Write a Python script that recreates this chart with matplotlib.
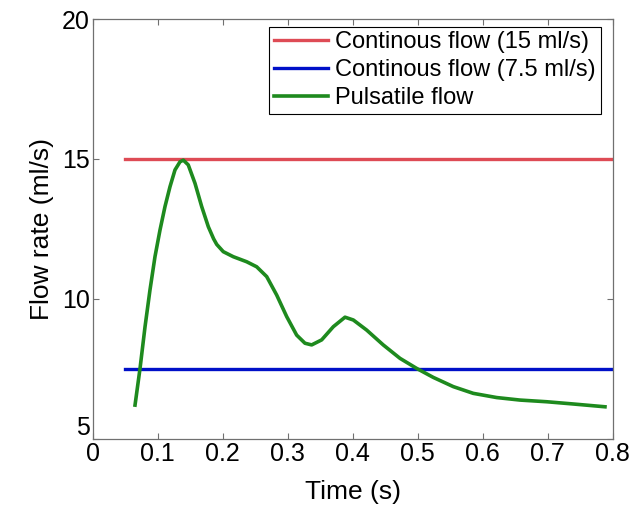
#! /usr/bin/env python3

import matplotlib
matplotlib.use('Agg')
import matplotlib.pyplot as plt
import matplotlib.transforms as mtransforms

# continuous flow levels (ml/s) and the span they cover (s)
flow_high = 15
flow_low = 7.5
flow_span = [0.05, 0.8]

# pulsatile flow waveform
t_pulse = [0.0651, 0.0728, 0.0805, 0.0881, 0.0958, 0.1035, 0.1112, 0.1189,
           0.1266, 0.1343, 0.1394, 0.147, 0.1574, 0.1677, 0.1779, 0.1860,
           0.1908, 0.2009, 0.2163, 0.2369, 0.2523, 0.2677, 0.2831, 0.2985,
           0.3138, 0.3266, 0.3369, 0.3523, 0.3702, 0.3882, 0.401, 0.4215,
           0.447, 0.4728, 0.4985, 0.524, 0.5548, 0.5855, 0.6215, 0.6574,
           0.6985, 0.7394, 0.7882]
q_pulse = [6.21, 7.52, 9.01, 10.32, 11.51, 12.46, 13.30, 14.01,
           14.61, 14.90, 14.96, 14.79, 14.13, 13.30, 12.58, 12.15,
           11.95, 11.69, 11.51, 11.33, 11.15, 10.80, 10.14, 9.37,
           8.71, 8.42, 8.36, 8.54, 9.01, 9.35, 9.25, 8.89,
           8.36, 7.88, 7.52, 7.20, 6.87, 6.63, 6.48, 6.39,
           6.33, 6.25, 6.15]

font = {'family': 'Liberation Sans',
        'weight': 'normal',
        'size': 18}
plt.rc('font', **font)

fig = plt.figure(figsize=(6.29, 5.15), dpi=100)
ax = fig.add_axes([0.1474, 0.1476, 0.8266, 0.8155])

ax.plot(flow_span, [flow_high, flow_high], color='#DE4B55', lw=2.4,
        label='Continous flow (15 ml/s)')
ax.plot(flow_span, [flow_low, flow_low], color='#0010C8', lw=2.4,
        label='Continous flow (7.5 ml/s)')
ax.plot(t_pulse, q_pulse, color='#1E8A1E', lw=2.6,
        solid_joinstyle='round', label='Pulsatile flow')

ax.set_xlim(0, 0.8)
ax.set_ylim(5, 20)
ax.set_xticks([0, 0.1, 0.2, 0.3, 0.4, 0.5, 0.6, 0.7, 0.8])
ax.set_xticklabels(['0', '0.1', '0.2', '0.3', '0.4', '0.5', '0.6', '0.7', '0.8'])
ax.set_yticks([5, 10, 15, 20])
ax.tick_params(direction='in', length=4, width=0.8, color='#707070',
               top=True, right=True, pad=2)
for k, v in ax.spines.items():
    v.set_color('#707070')
    v.set_linewidth(0.9)

# matlab nudges the lowest y label up so it clears the x labels
lab5 = ax.get_yticklabels()[0]
lab5.set_transform(lab5.get_transform() +
                   mtransforms.ScaledTranslation(0, 10 / 72, fig.dpi_scale_trans))

ax.set_xlabel('Time (s)', fontsize=19, labelpad=10)
ax.set_ylabel('Flow rate (ml/s)', fontsize=19, labelpad=6)

leg = ax.legend(loc='upper right', bbox_to_anchor=(0.977, 0.982),
                borderaxespad=0, fontsize=17, fancybox=False,
                handlelength=2.3, handletextpad=0.3, labelspacing=0.25,
                borderpad=0.2, framealpha=1)
leg.get_frame().set_edgecolor('black')
leg.get_frame().set_linewidth(0.8)

plt.savefig('out.png', dpi=100)
